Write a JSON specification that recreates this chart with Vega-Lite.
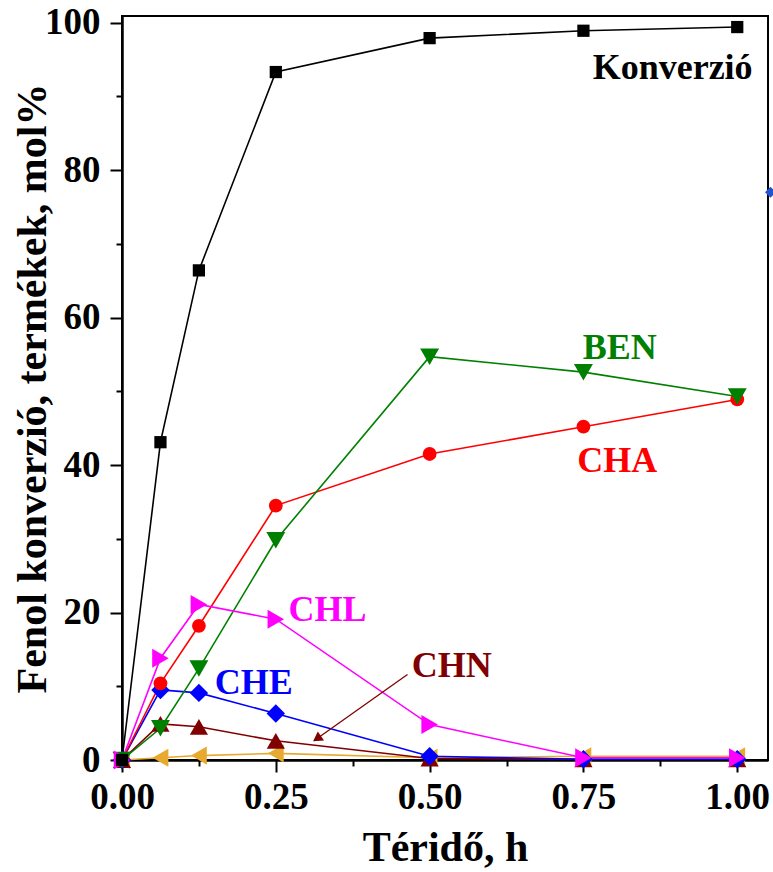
{
  "$schema": "https://vega.github.io/schema/vega-lite/v6.json",
  "autosize": "none",
  "width": 646,
  "height": 744,
  "padding": {"left": 122, "top": 16, "right": 5, "bottom": 112},
  "background": "white",
  "config": {
    "view": {"stroke": "black", "strokeWidth": 2},
    "axis": {
      "grid": false,
      "domainColor": "black",
      "domainWidth": 2.5,
      "tickColor": "black",
      "tickWidth": 2,
      "labelFont": "Liberation Serif",
      "labelFontWeight": "bold",
      "labelFontSize": 37,
      "labelColor": "black",
      "titleFont": "Liberation Serif",
      "titleFontWeight": "bold",
      "titleFontSize": 42,
      "titleColor": "black"
    },
    "text": {"font": "Liberation Serif", "fontWeight": "bold", "fontSize": 36}
  },
  "datasets": {
    "series": [
      {"series": "egyéb", "t": 0, "v": 0},
      {"series": "egyéb", "t": 0.0625, "v": 0.3},
      {"series": "egyéb", "t": 0.125, "v": 0.6},
      {"series": "egyéb", "t": 0.25, "v": 0.9},
      {"series": "egyéb", "t": 0.5, "v": 0.3},
      {"series": "egyéb", "t": 0.75, "v": 0.5},
      {"series": "egyéb", "t": 1.0, "v": 0.5},
      {"series": "CHN", "t": 0, "v": 0},
      {"series": "CHN", "t": 0.0625, "v": 4.9},
      {"series": "CHN", "t": 0.125, "v": 4.5},
      {"series": "CHN", "t": 0.25, "v": 2.6},
      {"series": "CHN", "t": 0.5, "v": 0.2},
      {"series": "CHN", "t": 0.75, "v": 0.1},
      {"series": "CHN", "t": 1.0, "v": 0.1},
      {"series": "CHE", "t": 0, "v": 0},
      {"series": "CHE", "t": 0.0625, "v": 9.5},
      {"series": "CHE", "t": 0.125, "v": 9.1},
      {"series": "CHE", "t": 0.25, "v": 6.3},
      {"series": "CHE", "t": 0.5, "v": 0.5},
      {"series": "CHE", "t": 0.75, "v": 0.1},
      {"series": "CHE", "t": 1.0, "v": 0.1},
      {"series": "CHA", "t": 0, "v": 0},
      {"series": "CHA", "t": 0.0625, "v": 10.4},
      {"series": "CHA", "t": 0.125, "v": 18.2},
      {"series": "CHA", "t": 0.25, "v": 34.5},
      {"series": "CHA", "t": 0.5, "v": 41.5},
      {"series": "CHA", "t": 0.75, "v": 45.2},
      {"series": "CHA", "t": 1.0, "v": 48.9},
      {"series": "BEN", "t": 0, "v": 0},
      {"series": "BEN", "t": 0.0625, "v": 4.3},
      {"series": "BEN", "t": 0.125, "v": 12.4},
      {"series": "BEN", "t": 0.25, "v": 29.8},
      {"series": "BEN", "t": 0.5, "v": 54.7},
      {"series": "BEN", "t": 0.75, "v": 52.6},
      {"series": "BEN", "t": 1.0, "v": 49.3},
      {"series": "CHL", "t": 0, "v": 0},
      {"series": "CHL", "t": 0.0625, "v": 13.8},
      {"series": "CHL", "t": 0.125, "v": 21.1},
      {"series": "CHL", "t": 0.25, "v": 19.1},
      {"series": "CHL", "t": 0.5, "v": 4.8},
      {"series": "CHL", "t": 0.75, "v": 0.3},
      {"series": "CHL", "t": 1.0, "v": 0.3},
      {"series": "Konverzió", "t": 0, "v": 0},
      {"series": "Konverzió", "t": 0.0625, "v": 43.1},
      {"series": "Konverzió", "t": 0.125, "v": 66.4},
      {"series": "Konverzió", "t": 0.25, "v": 93.3},
      {"series": "Konverzió", "t": 0.5, "v": 97.9},
      {"series": "Konverzió", "t": 0.75, "v": 98.9},
      {"series": "Konverzió", "t": 1.0, "v": 99.4}
    ],
    "labels": [
      {"series": "Konverzió", "label": "Konverzió", "t": 0.895, "v": 92.3},
      {"series": "BEN", "label": "BEN", "t": 0.809, "v": 54.4},
      {"series": "CHA", "label": "CHA", "t": 0.805, "v": 39.0},
      {"series": "CHL", "label": "CHL", "t": 0.334, "v": 18.9},
      {"series": "CHE", "label": "CHE", "t": 0.214, "v": 9.0},
      {"series": "CHN", "label": "CHN", "t": 0.536, "v": 11.2}
    ]
  },
  "layer": [
    {
      "data": {"name": "series"},
      "mark": {"type": "line", "strokeWidth": 1.6, "clip": false},
      "encoding": {
        "x": {
          "field": "t", "type": "quantitative",
          "scale": {"domain": [0, 1.05], "nice": false, "zero": false},
          "axis": {
            "orient": "bottom",
            "title": "Téridő, h",
            "values": [0, 0.25, 0.5, 0.75, 1.0],
            "format": ".2f",
            "tickSize": 12,
            "labelPadding": 7,
            "labelFlush": false,
            "labelOverlap": false,
            "titleBaseline": "alphabetic",
            "titleY": 100
          }
        },
        "y": {
          "field": "v", "type": "quantitative",
          "scale": {"domain": [0, 100.9], "nice": false, "zero": false},
          "axis": {
            "orient": "left",
            "title": "Fenol konverzió, termékek, mol%",
            "values": [0, 20, 40, 60, 80, 100],
            "format": "d",
            "tickSize": 12,
            "labelPadding": 10,
            "labelFlush": false,
            "labelOverlap": false,
            "titleBaseline": "alphabetic",
            "titleAngle": -90,
            "titleX": -77
          }
        },
        "color": {
          "field": "series", "type": "nominal",
          "scale": {
            "domain": ["Konverzió", "BEN", "CHA", "CHL", "CHE", "CHN", "egyéb"],
            "range": ["#000000", "#008000", "#FF0000", "#FF00FF", "#0000FF", "#800000", "#E8A92F"]
          },
          "legend": null
        }
      }
    },
    {
      "data": {"name": "series"},
      "mark": {"type": "point", "filled": true, "opacity": 1, "clip": false},
      "encoding": {
        "x": {
          "field": "t", "type": "quantitative",
          "axis": {
            "orient": "bottom",
            "title": null,
            "values": [0.125, 0.375, 0.625, 0.875],
            "labels": false,
            "domain": false,
            "tickSize": 6
          }
        },
        "y": {
          "field": "v", "type": "quantitative",
          "axis": {
            "orient": "left",
            "title": null,
            "values": [10, 30, 50, 70, 90],
            "labels": false,
            "domain": false,
            "tickSize": 6
          }
        },
        "color": {"field": "series", "type": "nominal", "legend": null},
        "shape": {
          "field": "series", "type": "nominal",
          "scale": {
            "domain": ["Konverzió", "BEN", "CHA", "CHL", "CHE", "CHN", "egyéb"],
            "range": [
              "square",
              "M-1,-0.87L1,-0.87L0,0.87Z",
              "circle",
              "M-0.87,-1L0.87,0L-0.87,1Z",
              "M0,-1L1,0L0,1L-1,0Z",
              "M0,-0.87L1,0.87L-1,0.87Z",
              "M0.87,-1L0.87,1L-0.87,0Z"
            ]
          },
          "legend": null
        },
        "size": {
          "field": "series", "type": "nominal",
          "scale": {
            "type": "ordinal",
            "domain": ["Konverzió", "BEN", "CHA", "CHL", "CHE", "CHN", "egyéb"],
            "range": [150, 360, 190, 360, 340, 330, 330]
          },
          "legend": null
        }
      }
    },
    {
      "data": {"values": [{"t1": 0.464, "v1": 11.6, "t2": 0.312, "v2": 2.6}]},
      "mark": {"type": "rule", "color": "#800000", "strokeWidth": 1.3},
      "encoding": {
        "x": {"field": "t1", "type": "quantitative", "axis": null},
        "y": {"field": "v1", "type": "quantitative", "axis": null},
        "x2": {"field": "t2"},
        "y2": {"field": "v2"}
      }
    },
    {
      "data": {"values": [{"t": 0.317, "v": 2.9}]},
      "mark": {"type": "point", "shape": "triangle-up", "angle": 235, "filled": true, "opacity": 1, "color": "#800000", "size": 120},
      "encoding": {
        "x": {"field": "t", "type": "quantitative", "axis": null},
        "y": {"field": "v", "type": "quantitative", "axis": null}
      }
    },
    {
      "data": {"values": [{"t": 1.054, "v": 77}]},
      "mark": {"type": "point", "shape": "diamond", "filled": true, "opacity": 1, "color": "#2255cc", "size": 120, "clip": false},
      "encoding": {
        "x": {"field": "t", "type": "quantitative", "axis": null},
        "y": {"field": "v", "type": "quantitative", "axis": null}
      }
    },
    {
      "data": {"name": "labels"},
      "mark": {"type": "text", "align": "center", "baseline": "alphabetic"},
      "encoding": {
        "x": {"field": "t", "type": "quantitative", "axis": null},
        "y": {"field": "v", "type": "quantitative", "axis": null},
        "text": {"field": "label"},
        "color": {"field": "series", "type": "nominal", "legend": null}
      }
    }
  ],
  "resolve": {"axis": {"x": "independent", "y": "independent"}}
}
